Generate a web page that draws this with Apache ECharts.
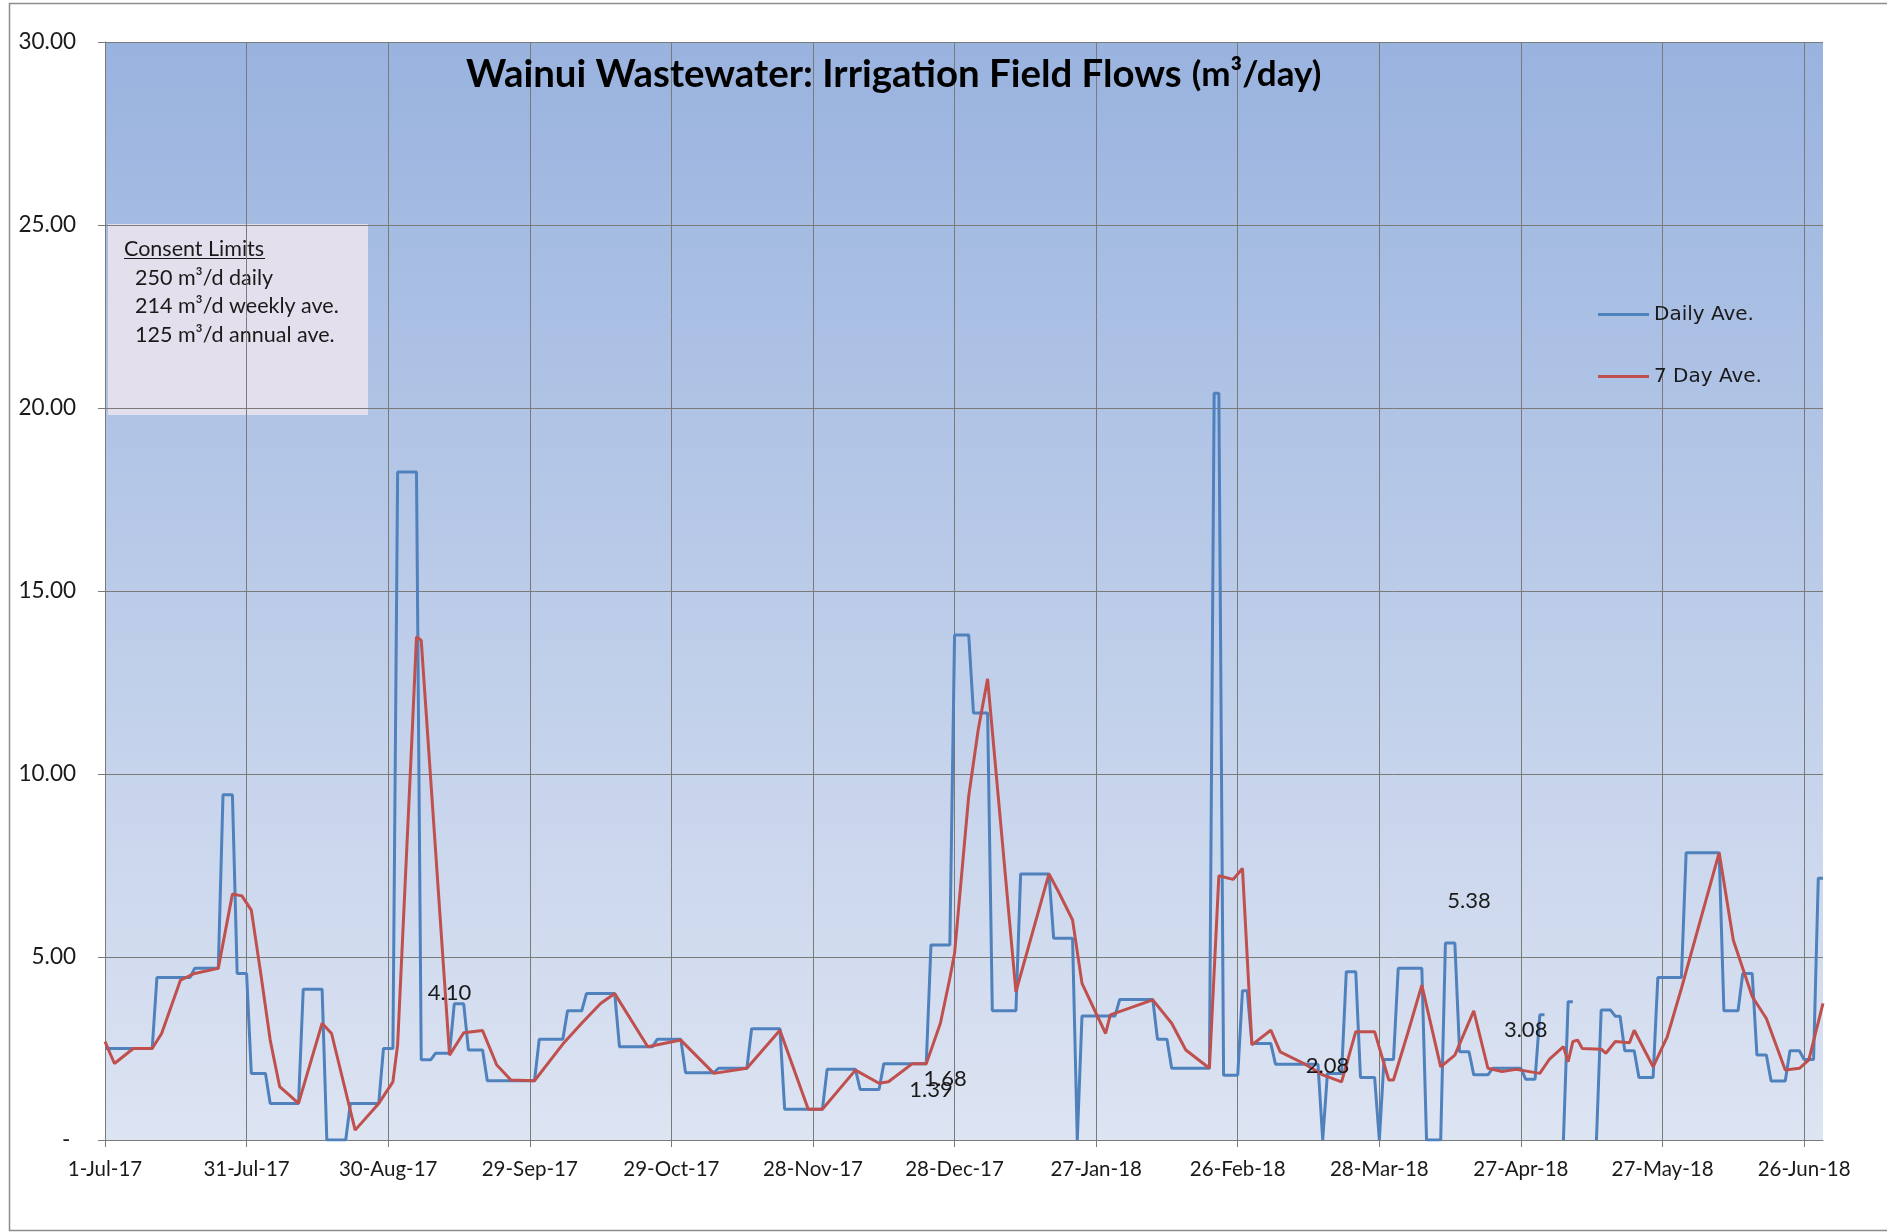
<!DOCTYPE html>
<html>
<head>
<meta charset="utf-8">
<title>Wainui Wastewater: Irrigation Field Flows</title>
<script src="https://cdn.jsdelivr.net/npm/echarts@6/dist/echarts.min.js"></script>
<style>
  html, body { margin: 0; padding: 0; background: #fff; }
  #chart { width: 1887px; height: 1232px; }
</style>
</head>
<body>
<div id="chart"></div>
<script>
// x axis ticks, one every 30 days from 1-Jul-17
const tickLabels = ['1-Jul-17', '31-Jul-17', '30-Aug-17', '29-Sep-17', '29-Oct-17', '28-Nov-17',
  '28-Dec-17', '27-Jan-18', '26-Feb-18', '28-Mar-18', '27-Apr-18', '27-May-18', '26-Jun-18']
const dayCount = 365

// daily ave, kept as runs: a value holds from its start day up to the next start (null = no reading)
const dailyRunStart = [0, 11, 19, 25, 28, 31, 35, 42, 47, 52, 59, 62, 67, 70, 74, 77, 81, 92, 98, 102,
  109, 117, 123, 130, 137, 144, 153, 160, 165, 175, 180, 184, 188, 194, 201, 206, 207, 215, 223, 226,
  235, 237, 241, 243, 248, 258, 259, 263, 266, 270, 271, 274, 280, 284, 287, 290, 294, 301, 304, 306,
  309, 310, 312, 316, 317, 320, 322, 325, 329, 335, 343, 347, 350, 353, 357, 360, 363]
const dailyRunValue = [2.5, 4.44, 4.69, 9.43, 4.55, 1.82, 1.0, 4.12, 0, 1.0, 2.5, 18.25, 2.19, 2.37, 3.72, 2.46, 1.62, 2.75, 3.53, 4.0,
  2.55, 2.75, 1.84, 1.96, 3.04, 0.84, 1.93, 1.38, 2.08, 5.33, 13.8, 11.67, 3.53, 7.27, 5.51, 0, 3.39, 3.84, 2.75, 1.96,
  20.4, 1.77, 4.08, 2.64, 2.07, 0, 1.82, 4.6, 1.71, 0, 2.2, 4.69, 0, 5.38, 2.41, 1.78, 1.96, 1.66, 3.42, null,
  0, 3.78, null, 0, 3.55, 3.38, 2.44, 1.71, 4.44, 7.85, 3.53, 4.55, 2.32, 1.61, 2.44, 2.2, 7.15]

// 7 day ave, [day, value] at each bend of the line
const weeklyAvePoints = [
  [0, 2.69], [2, 2.09], [6, 2.5], [10, 2.5], [12, 2.91], [16, 4.37], [19, 4.55], [24, 4.69], [27, 6.72],
  [29, 6.67], [31, 6.28], [33, 4.55], [35, 2.73], [37, 1.46], [39, 1.23], [41, 1.0], [46, 3.19], [48, 2.91],
  [53, 0.27], [58, 1.0], [61, 1.59], [62, 2.6], [65, 10.9], [66, 13.75], [67, 13.65], [73, 2.32], [76, 2.93],
  [80, 2.99], [83, 2.05], [86, 1.64], [91, 1.62], [97, 2.62], [101, 3.19], [105, 3.73], [108, 4.0], [115, 2.55],
  [122, 2.73], [129, 1.82], [136, 1.96], [143, 3.0], [149, 0.84], [152, 0.84], [159, 1.91], [164, 1.55],
  [166, 1.59], [171, 2.08], [174, 2.08], [177, 3.19], [179, 4.42], [180, 5.1], [183, 9.4], [185, 11.2],
  [187, 12.6], [193, 4.05], [200, 7.27], [202, 6.79], [205, 6.01], [207, 4.28], [212, 2.91], [213, 3.42],
  [222, 3.83], [226, 3.19], [229, 2.46], [234, 1.96], [236, 7.22], [239, 7.12], [241, 7.42], [243, 2.6],
  [247, 3.0], [249, 2.41], [254, 2.09], [258, 1.78], [262, 1.59], [265, 2.96], [269, 2.96], [272, 1.64],
  [273, 1.64], [276, 2.91], [279, 4.23], [283, 2.0], [286, 2.32], [290, 3.53], [293, 1.96], [296, 1.87],
  [299, 1.93], [304, 1.82], [306, 2.2], [309, 2.55], [310, 2.14], [311, 2.69], [312, 2.73], [313, 2.5],
  [317, 2.48], [318, 2.37], [320, 2.69], [323, 2.66], [324, 3.0], [328, 2.0], [331, 2.82], [334, 4.14],
  [342, 7.85], [345, 5.46], [349, 3.92], [352, 3.32], [356, 1.91], [359, 1.96], [361, 2.19], [364, 3.73]
]

// loose value labels left in the plot
const noteText = ['4.10', '1.39', '1.68', '2.08', '5.38', '3.08']
const noteDay = [73, 175, 178, 259, 289, 301]
const noteLevel = [4.02, 1.37, 1.67, 2.02, 6.53, 3.0]

const consentLines = ['250 m³/d daily', '214 m³/d weekly ave.', '125 m³/d annual ave.']

// spread the runs out to one value per day
const days = []
const dailyAve = []
let run = 0
for (let d = 0; d < dayCount; d++) {
  while (run + 1 < dailyRunStart.length && dailyRunStart[run + 1] <= d) run++
  days.push(d % 30 === 0 ? tickLabels[d / 30] : 'd' + d)
  dailyAve.push(dailyRunValue[run])
}

const axisFont = 'Lato, "Open Sans", sans-serif'
const gridColor = '#7a7a7a'

const chart = echarts.init(document.getElementById('chart'))

chart.setOption({
  animation: false,
  backgroundColor: '#fff',
  title: {
    left: 466,
    top: 56,
    padding: 0,
    text: '{b|Wainui Wastewater: Irrigation Field Flows}  {n|(m³/day)}',
    textStyle: {
      rich: {
        b: { fontFamily: axisFont, fontWeight: 'bold', fontSize: 38.4, color: '#000' },
        n: { fontFamily: axisFont, fontSize: 35, color: '#000' }
      }
    }
  },
  legend: {
    orient: 'vertical',
    left: 1598,
    top: 304.5,
    padding: 0,
    itemWidth: 51,
    itemHeight: 3,
    itemGap: 42,
    icon: 'rect',
    data: ['Daily Ave.', '7 Day Ave.'],
    textStyle: { fontFamily: 'DejaVu Sans', fontSize: 20, color: '#1a1a1a' }
  },
  grid: {
    left: 105,
    right: 64,
    top: 42,
    bottom: 92,
    show: true,
    borderWidth: 0,
    outerBoundsMode: 'none',
    backgroundColor: {
      type: 'linear', x: 0, y: 0, x2: 0, y2: 1,
      colorStops: [{ offset: 0, color: '#99b3df' }, { offset: 1, color: '#dde4f2' }]
    }
  },
  xAxis: {
    type: 'category',
    data: days,
    boundaryGap: false,
    axisLine: { lineStyle: { color: gridColor, width: 1 } },
    axisTick: { interval: 29, length: 7, lineStyle: { color: gridColor } },
    splitLine: { show: true, interval: 29, lineStyle: { color: gridColor, width: 1 } },
    axisLabel: { interval: 29, margin: 19, fontFamily: axisFont, fontSize: 20.5, color: '#1a1a1a' }
  },
  yAxis: {
    type: 'value',
    min: 0,
    max: 30,
    interval: 5,
    axisLine: { show: true, lineStyle: { color: gridColor, width: 1 } },
    axisTick: { show: true, length: 7, lineStyle: { color: gridColor } },
    splitLine: { lineStyle: { color: gridColor, width: 1 } },
    axisLabel: {
      margin: 29, fontFamily: axisFont, fontSize: 22.5, color: '#1a1a1a',
      formatter: v => (v === 0 ? '- ' : v.toFixed(2))
    }
  },
  series: [
    {
      name: 'Daily Ave.',
      type: 'line',
      data: dailyAve,
      symbol: 'none',
      connectNulls: false,
      color: '#4f81bd',
      lineStyle: { width: 3, color: '#4f81bd' }
    },
    {
      name: '7 Day Ave.',
      type: 'line',
      data: weeklyAvePoints,
      symbol: 'none',
      color: '#c0504d',
      lineStyle: { width: 3, color: '#c0504d' },
      markPoint: {
        symbol: 'circle',
        symbolSize: 0,
        label: { show: true, position: 'inside', fontFamily: axisFont, fontSize: 22, color: '#1a1a1a', formatter: p => p.name },
        data: noteText.map((t, i) => ({ name: t, coord: [noteDay[i], noteLevel[i]] }))
      }
    }
  ],
  graphic: [
    {
      type: 'rect', silent: true, z: -1,
      shape: { x: 9.5, y: 3.5, width: 1900, height: 1227 },
      style: { fill: null, stroke: '#8c8c8c', lineWidth: 1.5 }
    },
    {
      type: 'group', left: 108, top: 224, z: 10,
      children: [
        { type: 'rect', shape: { x: 0, y: 0, width: 260, height: 191 }, style: { fill: '#e4dfec' } },
        { type: 'text', x: 16, y: 14, style: { text: 'Consent Limits', font: '21.5px Lato', fill: '#1a1a1a' } },
        { type: 'line', shape: { x1: 16, y1: 34.5, x2: 157, y2: 34.5 }, style: { stroke: '#1a1a1a', lineWidth: 1 } },
        ...consentLines.map((t, i) => ({
          type: 'text', x: 27, y: 43 + i * 28.5, style: { text: t, font: '21.5px Lato', fill: '#1a1a1a' }
        }))
      ]
    }
  ]
})
</script>
</body>
</html>
